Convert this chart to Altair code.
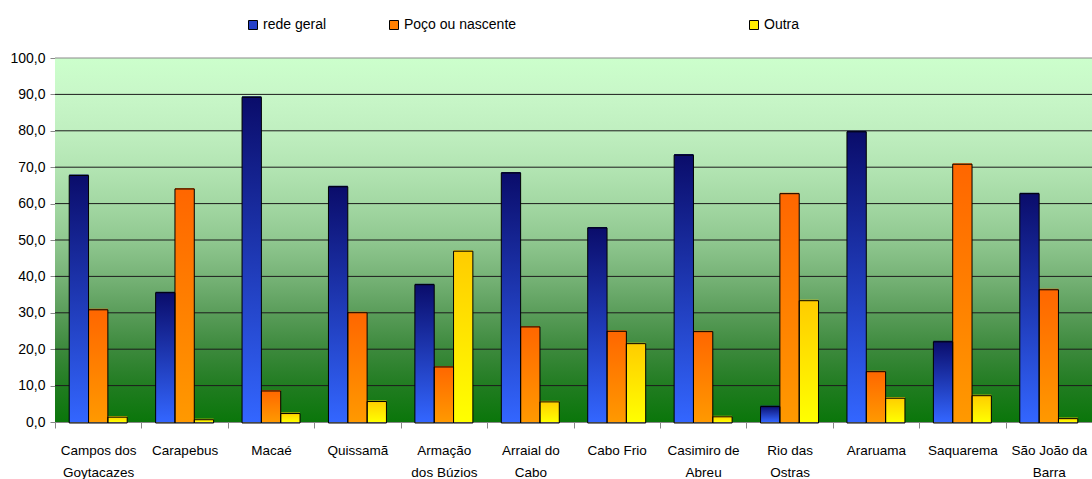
import json

import altair as alt
import pandas as pd

# Municípios (eixo X) e séries
MUNICIPIOS = [
    "Campos dos Goytacazes", "Carapebus", "Macaé", "Quissamã",
    "Armação dos Búzios", "Arraial do Cabo", "Cabo Frio", "Casimiro de Abreu",
    "Rio das Ostras", "Araruama", "Saquarema", "São João da Barra",
]
ROTULOS = [
    ["Campos dos", "Goytacazes"], ["Carapebus"], ["Macaé"], ["Quissamã"],
    ["Armação", "dos Búzios"], ["Arraial do", "Cabo"], ["Cabo Frio"], ["Casimiro de", "Abreu"],
    ["Rio das", "Ostras"], ["Araruama"], ["Saquarema"], ["São João da", "Barra"],
]
SERIES = ["rede geral", "Poço ou nascente", "Outra"]

REDE_GERAL = [68.0, 35.8, 89.5, 64.9, 38.0, 68.7, 53.6, 73.6, 4.5, 80.0, 22.3, 63.0]
POCO_NASCENTE = [31.1, 64.3, 8.8, 30.3, 15.4, 26.4, 25.2, 25.1, 63.0, 14.1, 71.1, 36.6]
OUTRA = [1.6, 0.9, 2.6, 5.9, 47.2, 5.8, 21.8, 1.7, 33.6, 6.8, 7.5, 1.2]

Y_TICKS = [0, 10, 20, 30, 40, 50, 60, 70, 80, 90, 100]

FONT = "Liberation Sans, Arial, sans-serif"
PLOT_W, PLOT_H = 1037, 364

rows = []
for i, mun in enumerate(MUNICIPIOS):
    for serie, vals in zip(SERIES, [REDE_GERAL, POCO_NASCENTE, OUTRA]):
        rows.append({"municipio": mun, "serie": serie, "valor": vals[i]})
df = pd.DataFrame(rows)
grid_df = pd.DataFrame({"valor": Y_TICKS[1:]})


def vertical_gradient(stops):
    return alt.Gradient(
        gradient="linear", x1=0, y1=0, x2=0, y2=1,
        stops=[alt.GradientStop(color=c, offset=o) for o, c in stops],
    )


label_expr = (
    f"{json.dumps(ROTULOS, ensure_ascii=False)}"
    f"[indexof({json.dumps(MUNICIPIOS, ensure_ascii=False)}, datum.value)]"
)

x_enc = alt.X(
    "municipio:N",
    sort=MUNICIPIOS,
    scale=alt.Scale(domain=MUNICIPIOS, paddingInner=0, paddingOuter=0),
    axis=alt.Axis(
        title=None, labelAngle=0, labelExpr=label_expr, labelBaseline="top",
        labelLineHeight=22, labelFontSize=13.5, labelPadding=15, tickSize=6,
        tickBand="extent", labelOverlap=False, grid=False,
    ),
)
xoff_enc = alt.XOffset(
    "serie:N", sort=SERIES,
    scale=alt.Scale(domain=SERIES, paddingInner=0, paddingOuter=0.7355),
)
y_axis = alt.Axis(
    title=None, values=Y_TICKS, grid=False, tickSize=5, labelPadding=5,
    labelFontSize=14, labelExpr="replace(format(datum.value, '.1f'), '.', ',')",
)
y_enc = alt.Y("valor:Q", scale=alt.Scale(domain=[0, 100], nice=False, zero=True), axis=y_axis)

# Fundo em degradê verde da área de plotagem
fundo = alt.Chart(grid_df).mark_rect(
    color=vertical_gradient([
        (0.0, "#ccffcc"), (0.1, "#c8f7c8"), (0.2, "#c0efc0"), (0.3, "#b3e5b3"),
        (0.4, "#a3d8a3"), (0.5, "#90c890"), (0.6, "#77b377"), (0.7, "#5a9d5a"),
        (0.8, "#3c893c"), (0.9, "#217c21"), (1.0, "#0a760a"),
    ])
).encode(
    x=alt.value(0), x2=alt.value(PLOT_W), y=alt.value(0), y2=alt.value(PLOT_H)
)

# Linhas de grade horizontais
grade = alt.Chart(grid_df).mark_rule(strokeWidth=1).encode(
    y=y_enc,
    x=alt.value(0),
    x2=alt.value(PLOT_W),
    color=alt.condition("datum.valor == 100", alt.value("#8a8a8a"), alt.value("#1c1c1c")),
)

CORES = {
    "rede geral": [(0.0, "#0a0c6a"), (1.0, "#3366ff")],
    "Poço ou nascente": [(0.0, "#ff6600"), (1.0, "#ff9900")],
    "Outra": [(0.0, "#ffcc00"), (1.0, "#ffff00")],
}

barras = [
    alt.Chart(df).transform_filter(alt.datum.serie == s).mark_bar(
        color=vertical_gradient(CORES[s]), strokeWidth=0
    ).encode(x=x_enc, xOffset=xoff_enc, y=y_enc)
    for s in SERIES
]

# Contorno escuro deslocado (efeito de sombra)
contorno = alt.Chart(df).mark_bar(
    fillOpacity=0, stroke="#000000", strokeWidth=1, xOffset=1, yOffset=1
).encode(x=x_enc, xOffset=xoff_enc, y=y_enc)

LEGENDA = [
    ("rede geral", "#2540c8", 191),
    ("Poço ou nascente", "#ff8000", 332),
    ("Outra", "#ffee00", 692),
]


def legend_layer(nome, cor, x):
    return alt.Chart(df).transform_filter("false").mark_square(
        size=81, stroke="#000000", strokeWidth=1, opacity=1
    ).encode(
        color=alt.Color(
            "serie:N",
            scale=alt.Scale(domain=[nome], range=[cor]),
            legend=alt.Legend(
                orient="none", legendX=x, legendY=-40, title=None,
                direction="horizontal", symbolType="square", symbolSize=81,
                labelFont=FONT, labelFontSize=14, labelOffset=3, padding=0,
                symbolStrokeColor="#000000", symbolStrokeWidth=1, labelColor="#000000",
            ),
        )
    )


legendas = [legend_layer(*item) for item in LEGENDA]

chart = alt.layer(fundo, grade, *barras, contorno, *legendas).resolve_scale(
    color="independent"
).resolve_legend(color="independent").properties(
    width=PLOT_W,
    height=PLOT_H,
    autosize=alt.AutoSizeParams(type="none"),
    padding={"left": 55, "top": 58, "right": 0, "bottom": 57},
    background="#ffffff",
).configure_view(stroke=None).configure_axis(
    labelFont=FONT, labelColor="#000000", domainColor="#000000", tickColor="#000000",
    domainWidth=1, tickWidth=1,
).configure(font=FONT)

chart.save("out.html", embed_options={"renderer": "svg", "actions": False})
